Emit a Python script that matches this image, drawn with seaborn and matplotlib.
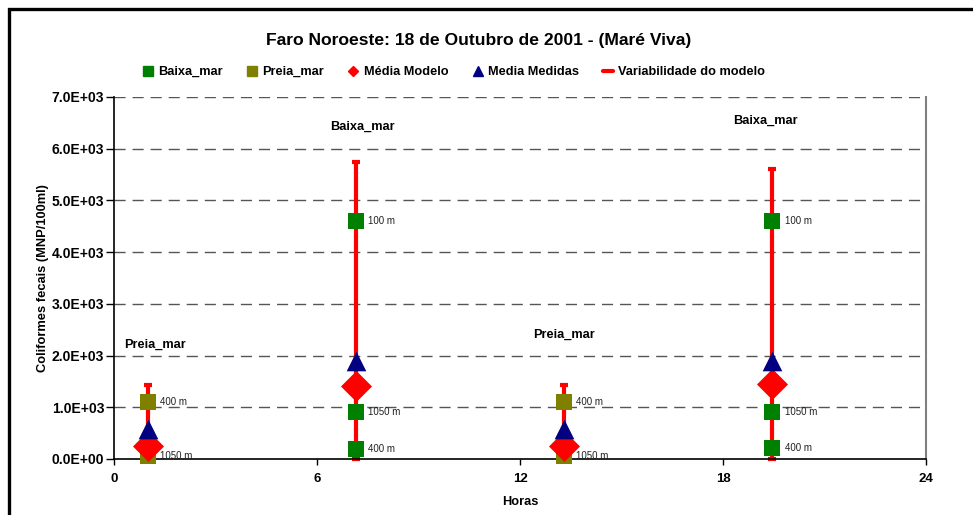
import matplotlib
matplotlib.use("Agg")
import matplotlib.pyplot as plt
from matplotlib.lines import Line2D
from matplotlib.patches import Rectangle
import seaborn as sns
import pandas as pd

# ---- data ----
horas = [1.0, 7.15, 13.3, 19.45]
fase = ["Preia_mar", "Baixa_mar", "Preia_mar", "Baixa_mar"]
fase_x = [0.3, 6.4, 12.4, 18.3]
fase_y = [2200, 6420, 2400, 6540]

baixa_horas = [7.15, 7.15, 7.15, 19.45, 19.45, 19.45]
baixa_vals = [4600, 900, 200, 4600, 900, 220]
baixa_labels = ["100 m", "1050 m", "400 m", "100 m", "1050 m", "400 m"]

preia_horas = [1.0, 1.0, 13.3, 13.3]
preia_vals = [1100, 50, 1100, 50]
preia_labels = ["400 m", "1050 m", "400 m", "1050 m"]

media_modelo = [250, 1420, 250, 1450]
media_medidas = [575, 1900, 575, 1900]
var_min = [0, 0, 0, 0]
var_max = [1425, 5750, 1425, 5600]

xticks = [0, 6, 12, 18, 24]
yticks = [0, 1000, 2000, 3000, 4000, 5000, 6000, 7000]

# ---- style ----
sns.set_style("white")
plt.rcParams["font.family"] = ["Liberation Sans", "DejaVu Sans"]
plt.rcParams["text.color"] = "black"
plt.rcParams["axes.labelcolor"] = "black"
plt.rcParams["xtick.color"] = "black"
plt.rcParams["ytick.color"] = "black"

fig = plt.figure(figsize=(9.73, 5.15), dpi=100)
ax = fig.add_axes([114 / 973, 56 / 515, 812 / 973, 362 / 515])

GREEN = "#008000"
OLIVE = "#808000"
RED = "#FF0000"
NAVY = "#000080"

# error bars (variabilidade do modelo)
ax.vlines(horas, var_min, var_max, color=RED, lw=3, zorder=2)
ax.hlines(var_max, [h - 0.12 for h in horas], [h + 0.12 for h in horas], color=RED, lw=3, zorder=2)
ax.hlines(var_min, [h - 0.12 for h in horas], [h + 0.12 for h in horas], color=RED, lw=3, zorder=2, clip_on=False)

df_b = pd.DataFrame({"h": baixa_horas, "v": baixa_vals})
df_p = pd.DataFrame({"h": preia_horas, "v": preia_vals})
df_mod = pd.DataFrame({"h": horas, "v": media_modelo})
df_med = pd.DataFrame({"h": horas, "v": media_medidas})

sns.scatterplot(data=df_b, x="h", y="v", marker="s", s=125, color=GREEN, edgecolor=GREEN, linewidth=0, ax=ax, zorder=3, clip_on=False)
sns.scatterplot(data=df_p, x="h", y="v", marker="s", s=125, color=OLIVE, edgecolor=OLIVE, linewidth=0, ax=ax, zorder=3, clip_on=False)
sns.scatterplot(data=df_mod, x="h", y="v", marker="D", s=250, color=RED, edgecolor=RED, linewidth=0, ax=ax, zorder=4, clip_on=False)
sns.scatterplot(data=df_med, x="h", y="v", marker="^", s=200, color=NAVY, edgecolor=NAVY, linewidth=0, ax=ax, zorder=5, clip_on=False)

for h, v, t in zip(baixa_horas, baixa_vals, baixa_labels):
    ax.annotate(t, (h, v), xytext=(9, 0), textcoords="offset points", va="center", ha="left", fontsize=7, color="#222222", zorder=6)
for h, v, t in zip(preia_horas, preia_vals, preia_labels):
    ax.annotate(t, (h, v), xytext=(9, 0), textcoords="offset points", va="center", ha="left", fontsize=7, color="#222222", zorder=6)

for x, y, t in zip(fase_x, fase_y, fase):
    ax.text(x, y, t, fontsize=9.2, fontweight="bold", ha="left", va="center")

ax.set_xlim(0, 24)
ax.set_ylim(0, 7000)
ax.set_xticks(xticks)
ax.set_xticklabels([str(t) for t in xticks], fontweight="bold", fontsize=9.5)
ax.set_yticks(yticks)
ax.set_yticklabels(["%.1fE+%02d" % (v / 1000, 3) if v > 0 else "0.0E+00" for v in yticks], fontweight="bold", fontsize=10)
ax.tick_params(axis="y", direction="out", length=6, width=1, color="black", pad=1, left=True)
ax.tick_params(axis="x", direction="out", length=4, width=1, color="black", pad=6, bottom=True)

for y in yticks[1:]:
    ax.axhline(y, color="#555555", lw=1, ls=(0, (8, 5)), zorder=1)

ax.spines["top"].set_visible(False)
ax.spines["left"].set_color("black")
ax.spines["left"].set_linewidth(1.2)
ax.spines["bottom"].set_color("black")
ax.spines["bottom"].set_linewidth(1.2)
ax.spines["right"].set_color("#808080")
ax.spines["right"].set_linewidth(1.5)

ax.set_xlabel("Horas", fontweight="bold", fontsize=9.2, labelpad=8)
ax.set_ylabel("Coliformes fecais (MNP/100ml)", fontweight="bold", fontsize=9.3, labelpad=2)

fig.text(479 / 973, 1 - 40 / 515, "Faro Noroeste: 18 de Outubro de 2001 - (Maré Viva)", ha="center", va="center",
         fontsize=12.6, fontweight="bold")

handles = [
    Line2D([], [], marker="s", color=GREEN, ls="none", markersize=6.5),
    Line2D([], [], marker="s", color=OLIVE, ls="none", markersize=6.5),
    Line2D([], [], marker="D", color=RED, ls="none", markersize=5),
    Line2D([], [], marker="^", color=NAVY, ls="none", markersize=7.5),
    Line2D([], [], color=RED, lw=3),
]
labels = ["Baixa_mar", "Preia_mar", "Média Modelo", "Media Medidas", "Variabilidade do modelo"]
leg = fig.legend(handles, labels, loc="center", bbox_to_anchor=(454 / 973, 1 - 72 / 515), ncol=5, frameon=False,
                 prop={"weight": "bold", "size": 9.2}, handlelength=0.8, handletextpad=0.4, columnspacing=1.9)

fig.add_artist(Rectangle((9 / 973, -0.2), 1.2, 1.2 - 9 / 515, transform=fig.transFigure, fill=False,
                         ec="black", lw=2.4, clip_on=False))

fig.savefig("out.png", dpi=100)
